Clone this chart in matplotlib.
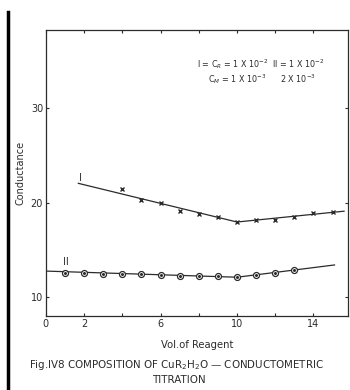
import matplotlib
matplotlib.use('Agg')
import matplotlib.pyplot as plt
from matplotlib.lines import Line2D

# curve I: C_R = 1e-2, C_M = 1e-3
vol_I = [4, 5, 6, 7, 8, 9, 10, 11, 12, 13, 14, 15]
cond_I = [21.5, 20.3, 19.95, 19.1, 18.8, 18.5, 17.95, 18.15, 18.15, 18.5, 18.9, 19.0]
fit_I_x = [1.7, 10, 15.6]
fit_I_y = [22.05, 17.95, 19.1]

# curve II: C_R = 1e-2, C_M = 2e-3
vol_II = [1, 2, 3, 4, 5, 6, 7, 8, 9, 10, 11, 12, 13]
cond_II = [12.55, 12.55, 12.45, 12.45, 12.45, 12.35, 12.25, 12.25, 12.25, 12.1, 12.35, 12.55, 12.85]
fit_II_x = [0, 10, 15.1]
fit_II_y = [12.75, 12.1, 13.4]

x_ticks = [0, 2, 4, 6, 8, 10, 12, 14]
x_labels = ['0', '2', '', '6', '', '10', '', '14']
y_ticks = [10, 20, 30]

ink = '#2b2b2b'
plt.rcParams['font.family'] = ['DejaVu Sans']

fig = plt.figure(figsize=(3.5, 3.9), dpi=100)
ax = fig.add_axes([0.131, 0.19, 0.863, 0.733])

ax.plot(fit_I_x, fit_I_y, color=ink, lw=0.9)
ax.plot(vol_I, cond_I, 'x', color=ink, ms=3.2, mew=1.0)

ax.plot(fit_II_x, fit_II_y, color=ink, lw=0.9)
ax.plot(vol_II, cond_II, 'o', mfc='white', mec=ink, ms=4.3, mew=0.9)
ax.plot(vol_II, cond_II, '.', color=ink, ms=2.3)

ax.text(1.8, 22.6, 'I', fontsize=7, color=ink, ha='center', va='center')
ax.text(1.05, 13.75, 'II', fontsize=7, color=ink, ha='center', va='center')

ax.text(7.9, 34.3, r'I = C$_R$ = 1 X 10$^{-2}$  II = 1 X 10$^{-2}$',
        fontsize=5.8, color=ink)
ax.text(8.5, 32.7, r'C$_M$ = 1 X 10$^{-3}$      2 X 10$^{-3}$',
        fontsize=5.8, color=ink)

ax.set_xlim(0, 15.8)
ax.set_ylim(8, 38.3)
ax.set_xticks(x_ticks)
ax.set_xticklabels(x_labels)
ax.set_yticks(y_ticks)
ax.tick_params(direction='in', top=True, right=True, length=2.5, width=0.8,
               labelsize=7, colors=ink, pad=2)
for s in ax.spines.values():
    s.set_color(ink)
    s.set_linewidth(0.9)

ax.set_ylabel('Conductance', fontsize=7, color=ink, labelpad=4)
ax.set_xlabel('Vol.of Reagent', fontsize=7.2, color=ink, labelpad=8)

fig.text(0.505, 0.064, r'Fig.IV8 COMPOSITION OF CuR$_2$H$_2$O — CONDUCTOMETRIC',
         fontsize=7.4, color=ink, ha='center', va='center')
fig.text(0.51, 0.026, 'TITRATION', fontsize=7.4, color=ink, ha='center', va='center')

# scan border on the left edge
fig.add_artist(Line2D([0.022, 0.022], [0.0, 0.97], transform=fig.transFigure,
                      color='black', lw=2.5))

fig.savefig('out.png', dpi=100)
